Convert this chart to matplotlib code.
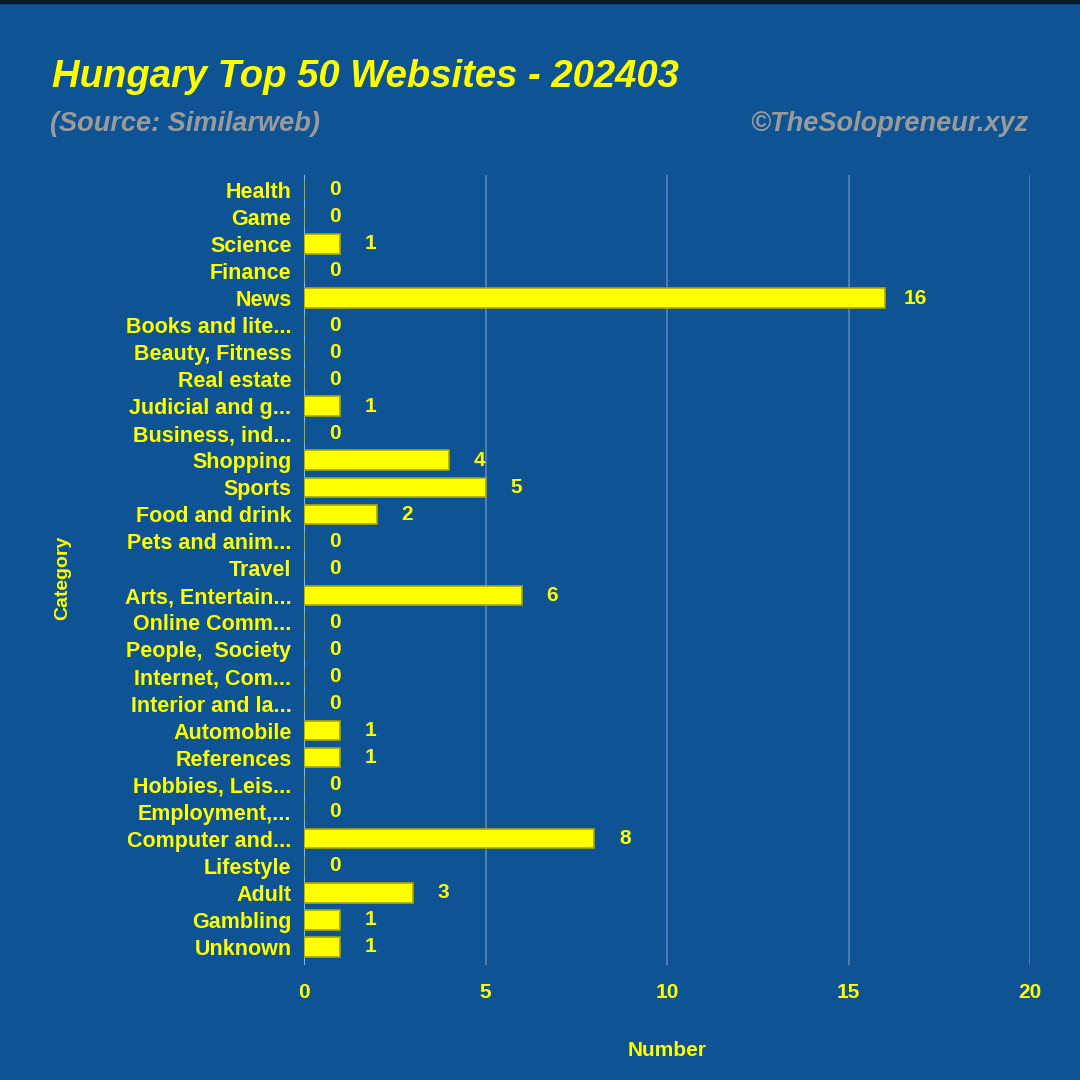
import matplotlib.pyplot as plt
from matplotlib.patches import Rectangle

# categories top to bottom, as shown
categories = [
    'Health', 'Game', 'Science', 'Finance', 'News', 'Books and lite...',
    'Beauty, Fitness', 'Real estate', 'Judicial and g...', 'Business, ind...',
    'Shopping', 'Sports', 'Food and drink', 'Pets and anim...', 'Travel',
    'Arts, Entertain...', 'Online Comm...', 'People,  Society', 'Internet, Com...',
    'Interior and la...', 'Automobile', 'References', 'Hobbies, Leis...',
    'Employment,...', 'Computer and...', 'Lifestyle', 'Adult', 'Gambling', 'Unknown',
]
counts = [0, 0, 1, 0, 16, 0, 0, 0, 1, 0, 4, 5, 2, 0, 0, 6, 0, 0, 0, 0,
          1, 1, 0, 0, 8, 0, 3, 1, 1]
x_ticks = [0, 5, 10, 15, 20]

bg = '#0e5394'
yellow = '#ffff00'

plt.rcParams['font.family'] = ['Liberation Sans', 'DejaVu Sans']

fig = plt.figure(figsize=(10.8, 10.8), dpi=100, facecolor=bg)
ax = fig.add_axes([304 / 1080, 1 - 965 / 1080, (1030 - 304) / 1080, (965 - 175) / 1080])
ax.set_facecolor(bg)

pos = list(range(len(categories)))
ax.barh(pos, counts, height=0.72, color=yellow, edgecolor='#a8a800', linewidth=1.2, zorder=3)
for p, c in zip(pos, counts):
    ax.annotate(str(c), (c, p), xytext=(22, 0), textcoords='offset points',
                ha='center', va='center', color=yellow, fontsize=15, fontweight='bold')

ax.set_ylim(len(categories) - 1 + 0.67, -0.55)
ax.set_xlim(0, 20)
ax.set_yticks(pos)
ax.set_yticklabels(categories, color=yellow, fontsize=15.5, fontweight='bold')
ax.set_xticks(x_ticks)
ax.set_xticklabels([str(t) for t in x_ticks], color=yellow, fontsize=15, fontweight='bold')
ax.tick_params(axis='both', length=0)
ax.tick_params(axis='y', pad=9)
ax.tick_params(axis='x', pad=13)
ax.grid(axis='x', color='#6f94bd', linewidth=1.2, alpha=0.8, zorder=0)
for s in ax.spines.values():
    s.set_visible(False)
ax.axvline(0, color='#8fb0d6', linewidth=1.5, zorder=2)

ax.set_xlabel('Number', color=yellow, fontsize=15, fontweight='bold', labelpad=28)
ax.set_ylabel('Category', color=yellow, fontsize=14, fontweight='bold')
ax.yaxis.set_label_coords(-0.32, 0.49)

fig.text(52 / 1080, 1 - 77 / 1080, 'Hungary Top 50 Websites - 202403', color=yellow,
         fontsize=27.5, fontweight='bold', fontstyle='italic', va='center', ha='left')
fig.text(50 / 1080, 1 - 124 / 1080, '(Source: Similarweb)', color='#9a9a9a',
         fontsize=19.5, fontweight='bold', fontstyle='italic', va='center', ha='left')
fig.text(1028 / 1080, 1 - 124 / 1080, '©TheSolopreneur.xyz', color='#9a9a9a',
         fontsize=19.5, fontweight='bold', fontstyle='italic', va='center', ha='right')

# dark strip at top edge
fig.add_artist(Rectangle((0, 1 - 3 / 1080), 1, 3 / 1080, transform=fig.transFigure,
                         color='#0a1a2a', zorder=10))

fig.savefig('out.png', dpi=100, facecolor=bg)
